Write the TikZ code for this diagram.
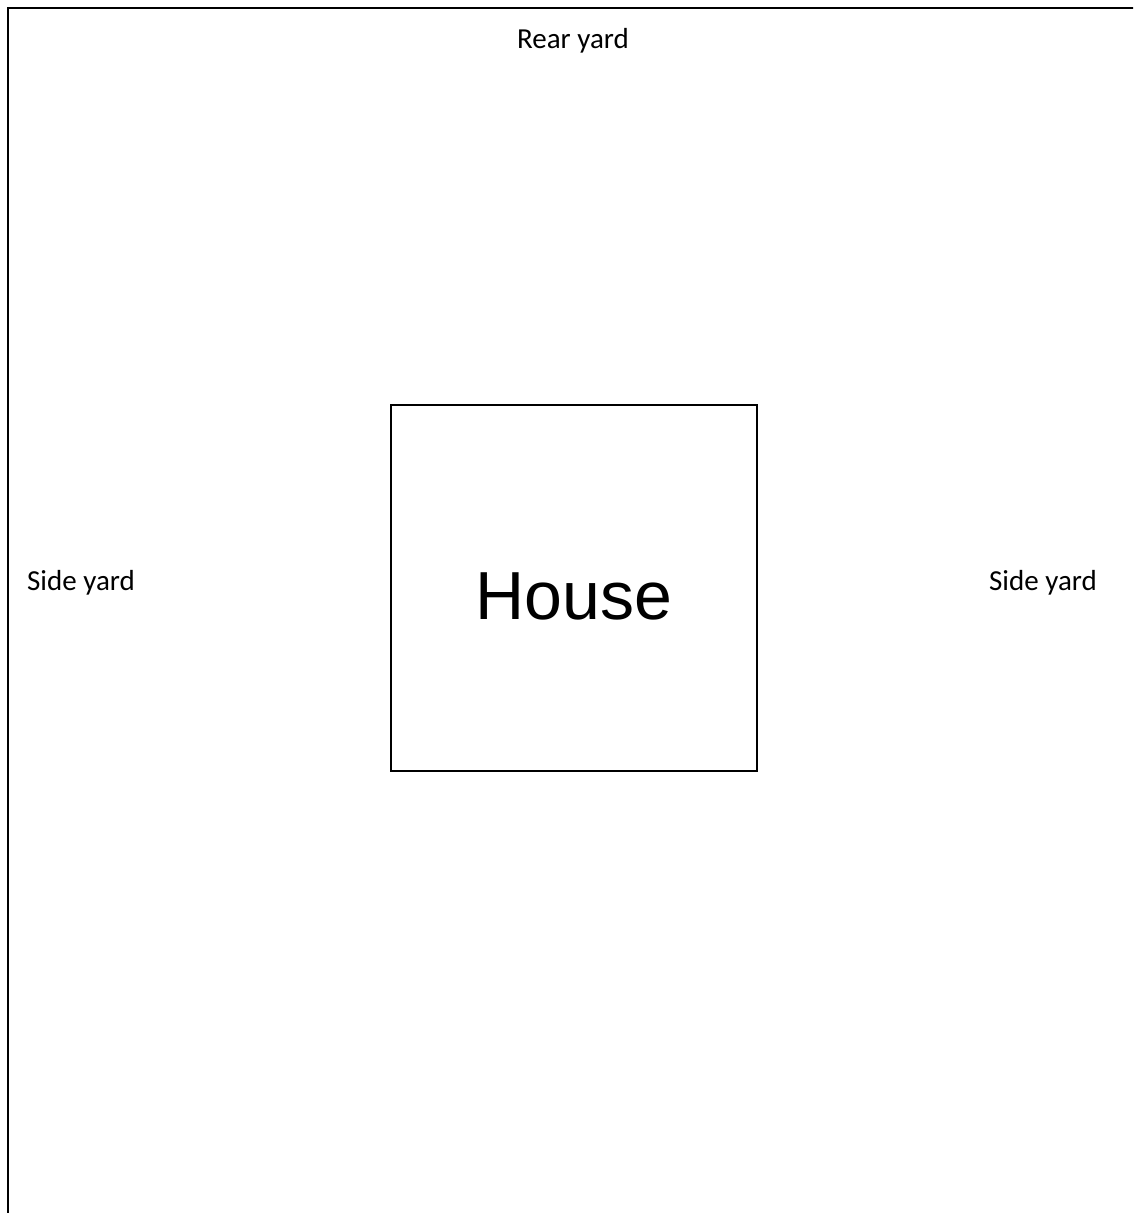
\documentclass[tikz,border=0pt]{standalone}
\usepackage{fontspec}
\setmainfont{Carlito}
\newfontfamily\arialfont{Liberation Sans}
\begin{document}
\begin{tikzpicture}[x=1pt,y=-1pt,
  lbl/.style={font=\fontsize{29}{34}\selectfont, inner sep=0pt},
  housebox/.style={draw, line width=2pt, minimum width=366pt, minimum height=366pt, inner sep=0pt}]
\useasboundingbox (0,0) rectangle (1133,1213);
\clip (0,0) rectangle (1133,1213);
\draw[line width=2pt] (8,8) rectangle (1150,1230);
\node[housebox] (house) at (573.5,587.5) {};
\node[font=\arialfont\fontsize{68}{80}\selectfont, inner sep=0pt] (houselbl) at (574,596) {House};
\node[lbl] (rear) at (573,41) {Rear yard};
\node[lbl] (sidel) at (81,583) {Side yard};
\node[lbl] (sider) at (1043,583) {Side yard};
\end{tikzpicture}
\end{document}
